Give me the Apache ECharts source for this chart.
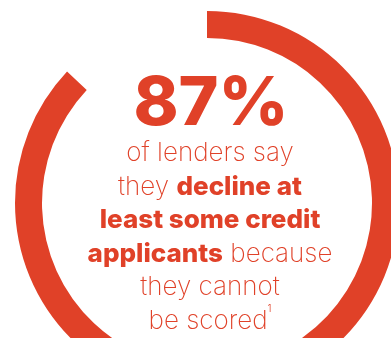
<!DOCTYPE html>
<html><head><meta charset="utf-8">
<script src="https://cdn.jsdelivr.net/npm/echarts@6/dist/echarts.min.js"></script>
<style>html,body{margin:0;padding:0;background:#fff}#c{width:391px;height:338px}</style>
</head><body><div id="c"></div>
<script>
const categories = ['Decline some applicants', 'Other'];
const values = [87, 13];
const headline = '87%';
const COLOR = '#E04128';

const chart = echarts.init(document.getElementById('c'), null, {renderer: 'canvas'});
chart.setOption({
  animation: false,
  series: [{
    type: 'pie',
    center: [207, 203],
    radius: [165, 192],
    startAngle: 90,
    clockwise: true,
    silent: true,
    label: {show: false},
    labelLine: {show: false},
    data: categories.map((n, i) => ({
      name: n, value: values[i],
      itemStyle: {color: i === 0 ? COLOR : 'rgba(0,0,0,0)'}
    }))
  }],
  graphic: [
    {type: 'text', style: {text: headline, x: 211, y: 105, align: 'center', verticalAlign: 'middle',
      fill: COLOR, font: '800 68px Inter'}},
    {type: 'text', style: {
      x: 210, y: 136.5, align: 'center', verticalAlign: 'top',
      text: '{l|of lenders say}\n{l|they }{b|decline at}\n{b|least some credit}\n{b|applicants}{l| because}\n{l|they cannot}\n{l|be scored}{s|1}',
      rich: {
        l: {fontFamily: 'Inter', fontWeight: 200, fontSize: 26, lineHeight: 33.5, fill: COLOR},
        b: {fontFamily: 'Inter', fontWeight: 800, fontSize: 26, lineHeight: 33.5, fill: COLOR},
        s: {fontFamily: 'Inter', fontWeight: 300, fontSize: 10, lineHeight: 33.5, fill: COLOR, verticalAlign: 'top', padding: [0,0,8,0]}
      }
    }}
  ]
});
</script></body></html>
